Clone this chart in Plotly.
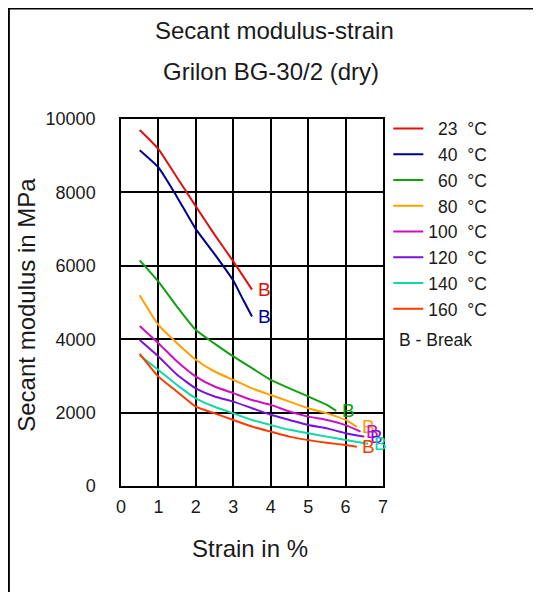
import plotly.graph_objects as go

# ---- data ----
temps = ["23", "40", "60", "80", "100", "120", "140", "160"]
colors = ["#e01010", "#000090", "#10a010", "#ffa000", "#d010c0", "#7a10e0", "#10d8a8", "#ff3a00"]

strain_23 = [0.5, 1.0, 1.5, 2.0, 2.5, 3.0, 3.5]
mod_23 = [9700, 9180, 8400, 7620, 6850, 6120, 5350]

strain_40 = [0.5, 1.0, 1.5, 2.0, 2.5, 3.0, 3.25, 3.5]
mod_40 = [9150, 8680, 7870, 7000, 6320, 5600, 5100, 4620]

strain_60 = [0.5, 1.0, 1.5, 2.0, 2.5, 3.0, 3.5, 4.0, 4.5, 5.0, 5.5, 5.75]
mod_60 = [6150, 5570, 4880, 4250, 3880, 3530, 3210, 2890, 2660, 2440, 2210, 2045]

strain_80 = [0.5, 1.0, 1.5, 2.0, 2.5, 3.0, 3.5, 4.0, 4.5, 5.0, 5.5, 6.0, 6.3]
mod_80 = [5200, 4390, 3890, 3440, 3120, 2890, 2660, 2480, 2300, 2120, 1980, 1800, 1610]

strain_100 = [0.5, 1.0, 1.5, 2.0, 2.5, 3.0, 3.5, 4.0, 4.5, 5.0, 5.5, 6.0, 6.4]
mod_100 = [4360, 3890, 3390, 2980, 2710, 2530, 2345, 2210, 2030, 1890, 1800, 1660, 1480]

strain_120 = [0.5, 1.0, 1.5, 2.0, 2.5, 3.0, 3.5, 4.0, 4.5, 5.0, 5.5, 6.0, 6.5]
mod_120 = [3980, 3530, 3030, 2660, 2440, 2300, 2120, 1940, 1800, 1660, 1570, 1440, 1345]

strain_140 = [0.5, 1.0, 1.5, 2.0, 2.5, 3.0, 3.5, 4.0, 4.5, 5.0, 5.5, 6.0, 6.6]
mod_140 = [3560, 3160, 2750, 2390, 2160, 1980, 1800, 1660, 1530, 1440, 1345, 1255, 1150]

strain_160 = [0.5, 1.0, 1.5, 2.0, 2.5, 3.0, 3.5, 4.0, 4.5, 5.0, 5.5, 6.0, 6.3]
mod_160 = [3600, 2980, 2570, 2160, 1980, 1800, 1620, 1480, 1345, 1250, 1180, 1115, 1070]

strains = [strain_23, strain_40, strain_60, strain_80, strain_100, strain_120, strain_140, strain_160]
moduli = [mod_23, mod_40, mod_60, mod_80, mod_100, mod_120, mod_140, mod_160]

x_ticks = [0, 1, 2, 3, 4, 5, 6, 7]
y_ticks = [0, 2000, 4000, 6000, 8000, 10000]

title_1 = "Secant modulus-strain"
title_2 = "Grilon BG-30/2 (dry)"
x_title = "Strain in %"
y_title = "Secant modulus in MPa"
break_label = "B"
break_note = "B - Break"

FONT = "Liberation Sans, Arial, sans-serif"
TXT = "#1a1a1a"
NB = "\u00a0"

# plot area in page pixels (page has an 8px body margin)
PL, PR, PT, PB = 121, 382.7, 119.3, 486.0
PW, PH = PR - PL, PB - PT


def px(xp):
    return (xp - PL) / PW


def py(yp):
    return (PB - yp) / PH


fig = go.Figure()
for t, c, xs, ys in zip(temps, colors, strains, moduli):
    pad = NB * (2 * (3 - len(t)))
    fig.add_trace(go.Scatter(
        x=xs, y=ys, mode="lines", name=f"{pad}{t}{NB}{NB}°C",
        line=dict(color=c, width=2, shape="spline", smoothing=0.5), hoverinfo="skip"))
    fig.add_annotation(x=xs[-1], y=ys[-1], text=break_label, showarrow=False,
                       xanchor="center", yanchor="middle", xshift=12,
                       font=dict(family=FONT, size=19, color=c))

fig.add_annotation(xref="paper", yref="paper", x=px(397), y=py(340),
                   text=break_note, showarrow=False, xanchor="left", yanchor="middle",
                   font=dict(family=FONT, size=17.5, color=TXT))

# titles
fig.add_annotation(xref="paper", yref="paper", x=px(274), y=py(31),
                   text=title_1, showarrow=False, xanchor="center", yanchor="middle",
                   font=dict(family=FONT, size=24, color=TXT))
fig.add_annotation(xref="paper", yref="paper", x=px(271), y=py(72),
                   text=title_2, showarrow=False, xanchor="center", yanchor="middle",
                   font=dict(family=FONT, size=24, color=TXT))
fig.add_annotation(xref="paper", yref="paper", x=px(250), y=py(548),
                   text=x_title, showarrow=False, xanchor="center", yanchor="middle",
                   font=dict(family=FONT, size=24, color=TXT))
fig.add_annotation(xref="paper", yref="paper", x=px(27), y=py(305),
                   text=y_title, showarrow=False, xanchor="center", yanchor="middle",
                   textangle=-90, font=dict(family=FONT, size=24, color=TXT))

# outer frame
fig.add_shape(type="rect", xref="paper", yref="paper",
              x0=px(9), x1=px(580), y0=py(9), y1=py(640),
              line=dict(color="black", width=2), layer="above")

W, H = 541, 592
ml, mt = PL - 8, PT - 8
fig.update_layout(
    width=W, height=H,
    margin=dict(l=ml, r=W - ml - PW, t=mt, b=H - mt - PH, pad=0),
    paper_bgcolor="white", plot_bgcolor="white",
    font=dict(family=FONT, color=TXT),
    showlegend=True,
    legend=dict(x=px(388), y=py(111), xanchor="left", yanchor="top",
                font=dict(family=FONT, size=17.5, color=TXT), bgcolor="rgba(0,0,0,0)",
                borderwidth=0, itemwidth=30, tracegroupgap=0),
    xaxis=dict(range=[0, 7], tickvals=x_ticks, ticktext=[str(v) for v in x_ticks],
               showgrid=True, gridcolor="black", gridwidth=1.5, zeroline=False,
               showline=True, linecolor="black", linewidth=1.5, mirror=True,
               ticks="", ticklabelstandoff=4,
               tickfont=dict(family=FONT, size=18, color=TXT)),
    yaxis=dict(range=[0, 10000], tickvals=y_ticks, ticktext=[str(v) for v in y_ticks],
               showgrid=True, gridcolor="black", gridwidth=1.5, zeroline=False,
               showline=True, linecolor="black", linewidth=1.5, mirror=True,
               ticks="", ticklabelstandoff=20,
               tickfont=dict(family=FONT, size=18, color=TXT)),
)

fig.write_html("out.html")
